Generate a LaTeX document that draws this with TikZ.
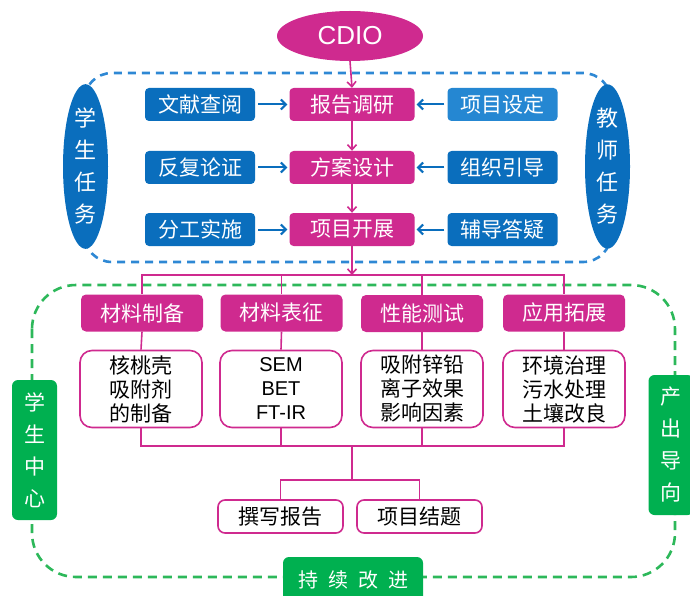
\documentclass[tikz,border=0pt]{standalone}
\usepackage{fontspec}
\setmainfont{Noto Sans CJK SC}
\newfontfamily\latf{Liberation Sans}
\usetikzlibrary{shapes.geometric,arrows.meta}
\definecolor{pk}{HTML}{CF2A8F}
\definecolor{bl}{HTML}{0A6EBD}
\definecolor{lbl}{HTML}{2587D2}
\definecolor{gr}{HTML}{00B050}
\definecolor{dbl}{HTML}{2E88D4}
\definecolor{dgr}{HTML}{2DB85A}
\begin{document}
\begin{tikzpicture}[x=1pt,y=-1pt,
  pkbox/.style={fill=pk, text=white, rounded corners=4pt, minimum width=125pt, minimum height=33pt, inner sep=0pt, font=\fontsize{21}{24}\selectfont},
  blbox/.style={fill=bl, text=white, rounded corners=4pt, minimum width=110pt, minimum height=33pt, inner sep=0pt, font=\fontsize{21}{24}\selectfont},
  catbox/.style={fill=pk, text=white, rounded corners=5pt, minimum width=122pt, minimum height=37pt, inner sep=0pt, font=\fontsize{21}{24}\selectfont},
  detbox/.style={draw=pk, line width=1.6pt, fill=white, text=black, rounded corners=12pt, minimum width=122pt, minimum height=77pt, inner sep=0pt, align=center, font=\fontsize{21}{24}\selectfont},
  botbox/.style={draw=pk, line width=1.6pt, fill=white, text=black, rounded corners=7pt, minimum width=125pt, minimum height=33pt, inner sep=0pt, font=\fontsize{21}{24}\selectfont},
  sideell/.style={ellipse, fill=bl, text=white, minimum width=45pt, minimum height=147pt, inner sep=0pt, align=center, font=\fontsize{22}{32}\selectfont},
  sidegr/.style={fill=gr, text=white, rounded corners=6pt, minimum width=45pt, minimum height=140pt, inner sep=0pt, align=center, font=\fontsize{21}{32}\selectfont},
  blarrow/.style={draw=bl, line width=2pt, -{Straight Barb[length=5pt,width=10pt]}, shorten <=3pt, shorten >=2pt},
  pkarrow/.style={draw=pk, line width=1.6pt, -{Straight Barb[length=5pt,width=9pt]}},
  pkline/.style={draw=pk, line width=1.6pt},
  bldash/.style={draw=dbl, line width=2.6pt, dash pattern=on 8pt off 6pt, rounded corners=28pt},
  grdash/.style={draw=dgr, line width=2.6pt, dash pattern=on 9pt off 6pt, rounded corners=44pt}
]
\useasboundingbox (0,0) rectangle (690,596);
% dashed frames
\draw[bldash] (84,73) rectangle (611,262);
\draw[grdash] (32,285) rectangle (675,577);
% top
\node[ellipse, fill=pk, text=white, minimum width=146pt, minimum height=50pt, inner sep=0pt, font=\latf\fontsize{26}{28}\selectfont] (cdio) at (350,36) {CDIO};
\node[sideell] (stu) at (85.5,166.5) {学\\生\\任\\务};
\node[sideell] (tea) at (607.5,166.5) {教\\师\\任\\务};
% centre column
\node[pkbox] (r1) at (352,104.5) {报告调研};
\node[pkbox] (r2) at (352,167.5) {方案设计};
\node[pkbox] (r3) at (352,229.5) {项目开展};
\node[blbox] (l1) at (200,104.5) {文献查阅};
\node[blbox] (l2) at (200,167.5) {反复论证};
\node[blbox] (l3) at (200,229.5) {分工实施};
\node[blbox, fill=lbl] (t1) at (502.5,104.5) {项目设定};
\node[blbox] (t2) at (502.5,167.5) {组织引导};
\node[blbox] (t3) at (502.5,229.5) {辅导答疑};
\draw[blarrow] (l1.east) -- (r1.west);
\draw[blarrow] (l2.east) -- (r2.west);
\draw[blarrow] (l3.east) -- (r3.west);
\draw[blarrow] (t1.west) -- (r1.east);
\draw[blarrow] (t2.west) -- (r2.east);
\draw[blarrow] (t3.west) -- (r3.east);
\draw[pkarrow] (cdio.south) -- (r1.north);
\draw[pkarrow] (r1.south) -- (r2.north);
\draw[pkarrow] (r2.south) -- (r3.north);
\coordinate (bus) at (352,275);
\draw[pkarrow] (r3.south) -- (bus);
% categories
\node[catbox] (c1) at (142,313) {材料制备};
\node[catbox] (c2) at (281.5,313) {材料表征};
\node[catbox] (c3) at (422,313.5) {性能测试};
\node[catbox] (c4) at (564,313) {应用拓展};
\draw[pkline] (c1.north) |- (c4.north |- bus) -- (c4.north);
\draw[pkline] (c2.north) -- (c2.north |- bus);
\draw[pkline] (c3.north) -- (c3.north |- bus);
% details
\node[detbox] (d1) at (141,389) {核桃壳\\吸附剂\\的制备};
\node[detbox] (d2) at (281,389) {\latf\fontsize{20}{24}\selectfont SEM\\\latf\fontsize{20}{24}\selectfont BET\\\latf\fontsize{20}{24}\selectfont FT-IR};
\node[detbox] (d3) at (422,389) {吸附锌铅\\离子效果\\影响因素};
\node[detbox] (d4) at (564,389) {环境治理\\污水处理\\土壤改良};
\draw[pkline] (c1.south) -- (d1.north);
\draw[pkline] (c2.south) -- (d2.north);
\draw[pkline] (c3.south) -- (d3.north);
\draw[pkline] (c4.south) -- (d4.north);
\coordinate (bus2) at (352,446);
\coordinate (bus3) at (352,480);
\draw[pkline] (d1.south) |- (d4.south |- bus2) -- (d4.south);
\draw[pkline] (d2.south) -- (d2.south |- bus2);
\draw[pkline] (d3.south) -- (d3.south |- bus2);
\draw[pkline] (bus2) -- (bus3);
% bottom
\node[botbox] (b1) at (280.5,516.5) {撰写报告};
\node[botbox] (b2) at (419.5,516.5) {项目结题};
\draw[pkline] (b1.north) |- (bus3) -| (b2.north);
% green labels
\node[sidegr] (scl) at (34.5,450) {学\\生\\中\\心};
\node[sidegr] (ocl) at (671,445) {产\\出\\导\\向};
\node[fill=gr, text=white, rounded corners=6pt, minimum width=140pt, minimum height=46pt, inner sep=0pt, font=\fontsize{20}{24}\selectfont] (cont) at (353,580) {持\hspace{10pt}续\hspace{10pt}改\hspace{10pt}进};
\end{tikzpicture}
\end{document}
